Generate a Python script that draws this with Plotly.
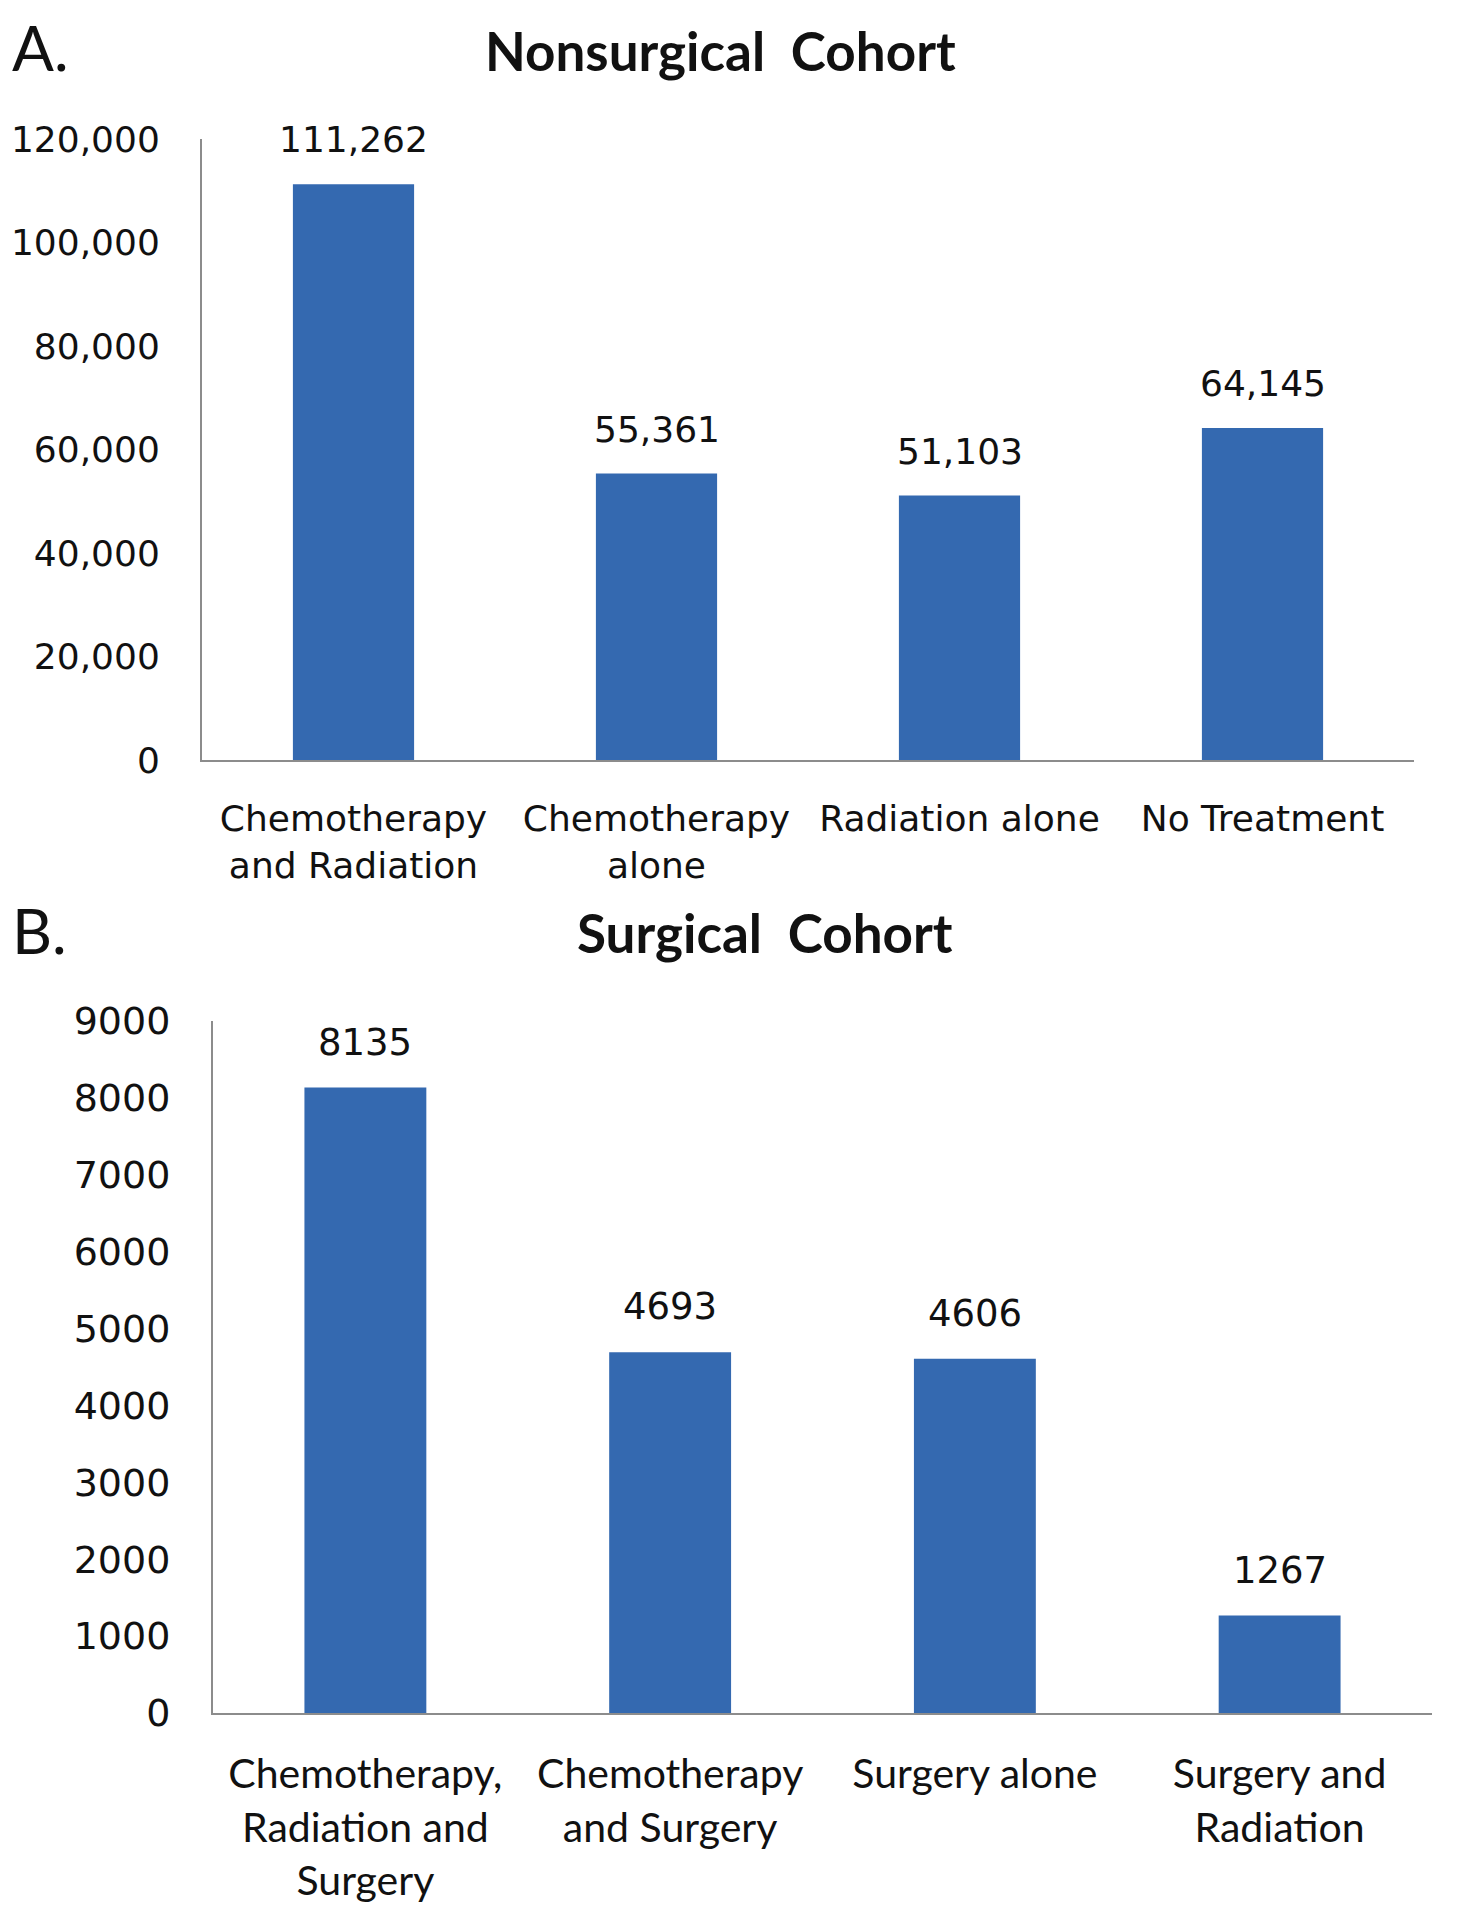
import plotly.graph_objects as go

# ---- data ----
nonsurg_categories = ["Chemotherapy<br>and Radiation", "Chemotherapy<br>alone", "Radiation alone", "No Treatment"]
nonsurg_values = [111262, 55361, 51103, 64145]
nonsurg_ticks = [0, 20000, 40000, 60000, 80000, 100000, 120000]

surg_categories = ["Chemotherapy,<br>Radiation and<br>Surgery", "Chemotherapy<br>and Surgery", "Surgery alone", "Surgery and<br>Radiation"]
surg_values = [8135, 4693, 4606, 1267]
surg_ticks = [0, 1000, 2000, 3000, 4000, 5000, 6000, 7000, 8000, 9000]

BAR = "#3469b0"
AXIS = "#8c8c8c"
W, H = 1460, 1920
OFF = 8  # page body margin


def px(x):
    return (x - OFF) / W


def py(y):
    return 1 - (y - OFF) / H


fig = go.Figure()
fig.add_trace(go.Bar(x=nonsurg_categories, y=nonsurg_values, marker=dict(color=BAR, line=dict(width=0)),
                     width=0.4, xaxis="x", yaxis="y", hoverinfo="skip", showlegend=False))
fig.add_trace(go.Bar(x=surg_categories, y=surg_values, marker=dict(color=BAR, line=dict(width=0)),
                     width=0.4, xaxis="x2", yaxis="y2", hoverinfo="skip", showlegend=False))

annotations = []
for c, v in zip(nonsurg_categories, nonsurg_values):
    annotations.append(dict(x=c, y=v, xref="x", yref="y", text=f"{v:,}", showarrow=False,
                            yanchor="bottom", yshift=22, font=dict(family="DejaVu Sans", size=36, color="#111")))
for c, v in zip(surg_categories, surg_values):
    annotations.append(dict(x=c, y=v, xref="x2", yref="y2", text=f"{v}", showarrow=False,
                            yanchor="bottom", yshift=22, font=dict(family="DejaVu Sans", size=37, color="#111")))

annotations += [
    dict(x=px(10), y=py(47), xref="paper", yref="paper", text="A.", showarrow=False,
         xanchor="left", yanchor="middle", font=dict(family="Lato", size=62, color="#111")),
    dict(x=px(720), y=py(51), xref="paper", yref="paper", text="<b>Nonsurgical  Cohort</b>", showarrow=False,
         xanchor="center", yanchor="middle", font=dict(family="Lato", size=53, color="#111")),
    dict(x=px(10), y=py(930), xref="paper", yref="paper", text="B.", showarrow=False,
         xanchor="left", yanchor="middle", font=dict(family="Lato", size=62, color="#111")),
    dict(x=px(765), y=py(933), xref="paper", yref="paper", text="<b>Surgical  Cohort</b>", showarrow=False,
         xanchor="center", yanchor="middle", font=dict(family="Lato", size=53, color="#111")),
]

axis_common = dict(showgrid=False, zeroline=False, showline=True, linecolor=AXIS, linewidth=2,
                   ticks="", fixedrange=True, automargin=False)

fig.update_layout(
    width=W, height=H,
    margin=dict(l=0, r=0, t=0, b=0),
    paper_bgcolor="white", plot_bgcolor="white",
    bargap=0.6,
    annotations=annotations,
    xaxis=dict(domain=[px(202), px(1414)], anchor="y", tickfont=dict(family="DejaVu Sans", size=36, color="#111"),
               ticklabelstandoff=26, **axis_common),
    yaxis=dict(domain=[py(760), py(139)], anchor="x", range=[0, 120000], tickvals=nonsurg_ticks,
               tickformat=",", tickfont=dict(family="DejaVu Sans", size=36, color="#111"),
               ticklabelstandoff=33, **axis_common),
    xaxis2=dict(domain=[px(213), px(1432)], anchor="y2", tickfont=dict(family="Lato", size=41, color="#111"),
                ticklabelstandoff=24, **axis_common),
    yaxis2=dict(domain=[py(1713), py(1021)], anchor="x2", range=[0, 9000], tickvals=surg_ticks,
                tickformat="d", tickfont=dict(family="DejaVu Sans", size=38, color="#111"),
                ticklabelstandoff=33, **axis_common),
)

fig.write_html("out.html")
